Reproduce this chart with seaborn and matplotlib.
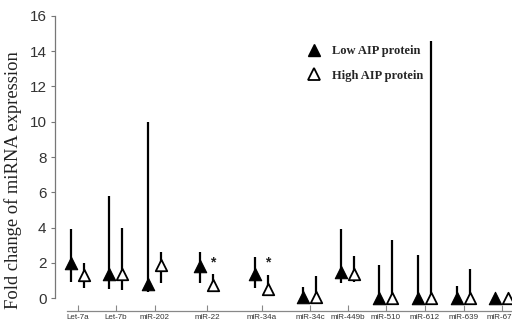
import matplotlib
matplotlib.use("Agg")
import matplotlib.pyplot as plt
from matplotlib.lines import Line2D
import seaborn as sns
import pandas as pd

# ---- data ----
categories = ["Let-7a", "Let-7b", "miR-202", "miR-22", "miR-34a", "miR-34c",
              "miR-449b", "miR-510", "miR-612", "miR-639", "miR-671"]
low_median = [2.0, 1.4, 0.8, 1.85, 1.4, 0.05, 1.5, 0.0, 0.0, 0.0, 0.0]
low_min = [0.95, 0.55, 0.35, 0.85, 0.6, 0.0, 0.85, 0.0, 0.0, 0.0, 0.0]
low_max = [3.9, 5.8, 10.0, 2.6, 2.35, 0.65, 3.9, 1.9, 2.45, 0.7, 0.0]
high_median = [1.3, 1.35, 1.9, 0.75, 0.5, 0.05, 1.4, 0.0, 0.0, 0.0, 0.0]
high_min = [0.6, 0.45, 0.85, 0.5, 0.15, 0.0, 0.9, 0.0, 0.0, 0.0, 0.0]
high_max = [2.0, 4.0, 2.6, 1.4, 1.3, 1.25, 2.4, 3.3, 14.6, 1.65, 0.0]
significant = ["miR-22", "miR-34a"]
yticks = [0, 2, 4, 6, 8, 10, 12, 14, 16]

# ---- layout ----
cat_x = [0, 0.97, 1.97, 3.31, 4.72, 5.95, 6.92, 7.9, 8.9, 9.9, 10.87]
low_off, high_off = -0.18, 0.16

rows = []
for i, c in enumerate(categories):
    rows.append(dict(cat=c, group="Low AIP protein", x=cat_x[i] + low_off,
                     med=low_median[i], lo=low_min[i], hi=low_max[i]))
    rows.append(dict(cat=c, group="High AIP protein", x=cat_x[i] + high_off,
                     med=high_median[i], lo=high_min[i], hi=high_max[i]))
df = pd.DataFrame(rows)

sns.set_style("white")
plt.rcParams["font.family"] = ["Liberation Sans", "DejaVu Sans"]

fig = plt.figure(figsize=(5.12, 3.23), dpi=100)
ax = fig.add_axes([0.107, 0.0765, 0.893, 0.8745])

# range lines
ax.vlines(df["x"], df["lo"], df["hi"], color="black", linewidth=1.6, zorder=2)

low = df[df.group == "Low AIP protein"]
high = df[df.group == "High AIP protein"]
sns.scatterplot(data=low, x="x", y="med", marker="^", s=80, color="black",
                edgecolor="black", linewidth=0.8, ax=ax, zorder=3, legend=False,
                clip_on=False)
sns.scatterplot(data=high, x="x", y="med", marker="^", s=68, color="white",
                edgecolor="black", linewidth=1.3, ax=ax, zorder=3, legend=False,
                clip_on=False)

for c in significant:
    r = high[high.cat == c].iloc[0]
    ax.text(r["x"], 2.05, "*", ha="center", va="center", fontsize=10,
            fontweight="bold", color="#222222")

ax.tick_params(axis="y", direction="out", length=3, width=0.8, color="#777777",
               pad=3, left=True, labelsize=11, labelcolor="#333333")
ax.tick_params(axis="x", direction="in", length=4, width=0.8, color="#888888",
               pad=2, bottom=True, labelsize=5.8, labelcolor="#333333")

ax.set_xlim(-0.59, 11.13)
ax.set_ylim(0, 16)
ax.set_yticks(yticks)
ax.set_yticklabels([str(t) for t in yticks])
ax.set_xticks(cat_x)
ax.set_xticklabels(categories)
for lab in ax.get_xticklabels():
    lab.set_fontfamily(["Open Sans", "DejaVu Sans"])
    lab.set_fontsize(5.8)
ax.set_xlabel("")
ax.set_ylabel("Fold change of miRNA expression", fontsize=13.3,
              fontfamily=["Liberation Serif", "DejaVu Serif"], color="#222222")
ax.yaxis.set_label_coords(-0.072, 0.42)

for s in ["top", "right"]:
    ax.spines[s].set_visible(False)
ax.spines["left"].set_color("#777777")
ax.spines["left"].set_linewidth(0.9)
ax.spines["left"].set_bounds(0, 16)
ax.spines["bottom"].set_position(("outward", 9))
ax.spines["bottom"].set_color("#888888")
ax.spines["bottom"].set_linewidth(0.9)
ax.spines["bottom"].set_bounds(-0.28, 11.2)

handles = [Line2D([0], [0], marker="^", linestyle="none", markersize=9,
                  markerfacecolor="black", markeredgecolor="black"),
           Line2D([0], [0], marker="^", linestyle="none", markersize=8,
                  markerfacecolor="white", markeredgecolor="black", markeredgewidth=1.3)]
leg = ax.legend(handles, ["Low AIP protein", "High AIP protein"],
                loc="center left", bbox_to_anchor=(0.528, 0.832), frameon=False,
                handlelength=1.0, handletextpad=0.95, labelspacing=1.0,
                prop=dict(family=["Liberation Serif"], weight="bold", size=9))

fig.savefig("out.png", dpi=100)
